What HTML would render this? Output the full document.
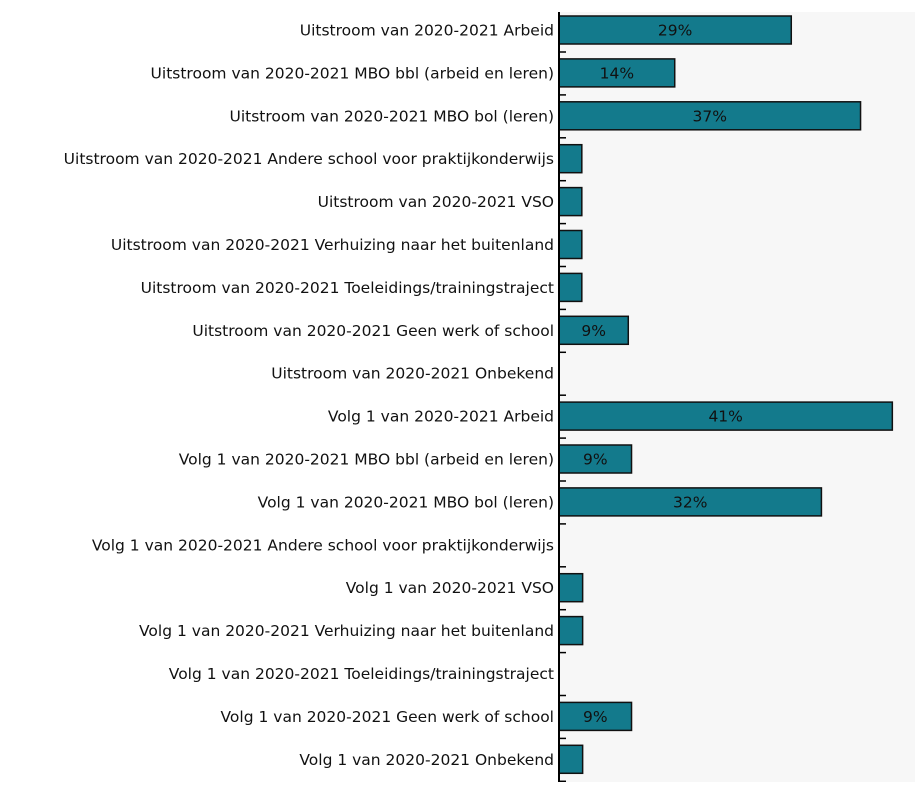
<!DOCTYPE html>
<html><head><meta charset="utf-8"><style>
body{margin:0;background:#fff;}
svg text{font-family:"DejaVu Sans","Liberation Sans",sans-serif;font-size:15.5px;fill:#111;}
</style></head><body>
<svg id="chart" width="915" height="782" xmlns="http://www.w3.org/2000/svg">
<rect x="559" y="12" width="356" height="770" fill="#f7f7f7"/>
<g id="bars"></g>
<line x1="559" y1="12" x2="559" y2="782" stroke="#000" stroke-width="2"/>
</svg>
<script>
const categories=["Uitstroom van 2020-2021 Arbeid","Uitstroom van 2020-2021 MBO bbl (arbeid en leren)","Uitstroom van 2020-2021 MBO bol (leren)","Uitstroom van 2020-2021 Andere school voor praktijkonderwijs","Uitstroom van 2020-2021 VSO","Uitstroom van 2020-2021 Verhuizing naar het buitenland","Uitstroom van 2020-2021 Toeleidings/trainingstraject","Uitstroom van 2020-2021 Geen werk of school","Uitstroom van 2020-2021 Onbekend","Volg 1 van 2020-2021 Arbeid","Volg 1 van 2020-2021 MBO bbl (arbeid en leren)","Volg 1 van 2020-2021 MBO bol (leren)","Volg 1 van 2020-2021 Andere school voor praktijkonderwijs","Volg 1 van 2020-2021 VSO","Volg 1 van 2020-2021 Verhuizing naar het buitenland","Volg 1 van 2020-2021 Toeleidings/trainingstraject","Volg 1 van 2020-2021 Geen werk of school","Volg 1 van 2020-2021 Onbekend"];
const values=[28.5,14.2,37,2.8,2.8,2.8,2.8,8.5,0,40.9,8.9,32.2,0,2.9,2.9,0,8.9,2.9];
const labelThreshold=5;
const x0=559,pxPer=8.15,top0=12,band=42.9,barH=28;
const xs=v=>x0+v*pxPer, ys=i=>top0+i*band;
const g=document.getElementById('bars');
const NS="http://www.w3.org/2000/svg";
categories.forEach((c,i)=>{
  const y=ys(i);
  const t=document.createElementNS(NS,'text');
  
  
  t.setAttribute('x',554);t.setAttribute('y',y+4+barH/2+5.5);t.setAttribute('text-anchor','end');
  t.textContent=c;g.appendChild(t);
  const tk=document.createElementNS(NS,'line');
  
  
  tk.setAttribute('x1',559);tk.setAttribute('x2',566);tk.setAttribute('y1',y+40);tk.setAttribute('y2',y+40);tk.setAttribute('stroke','#000');tk.setAttribute('stroke-width','1.5');
  g.appendChild(tk);
  const v=values[i];
  if(v>0){
    const r=document.createElementNS(NS,'rect');
    
    
    r.setAttribute('x',x0);r.setAttribute('y',y+4);r.setAttribute('width',xs(v)-x0);r.setAttribute('height',barH);
    r.setAttribute('fill','#137a8c');r.setAttribute('stroke','#111');r.setAttribute('stroke-width','1.5');
    g.appendChild(r);
    if(v>=labelThreshold){
      const l=document.createElementNS(NS,'text');
      
      
      l.setAttribute('x',(x0+xs(v))/2);l.setAttribute('y',y+4+barH/2+5.5);l.setAttribute('text-anchor','middle');
      l.textContent=Math.round(v)+'%';g.appendChild(l);
    }
  }
});
</script>
</body></html>
